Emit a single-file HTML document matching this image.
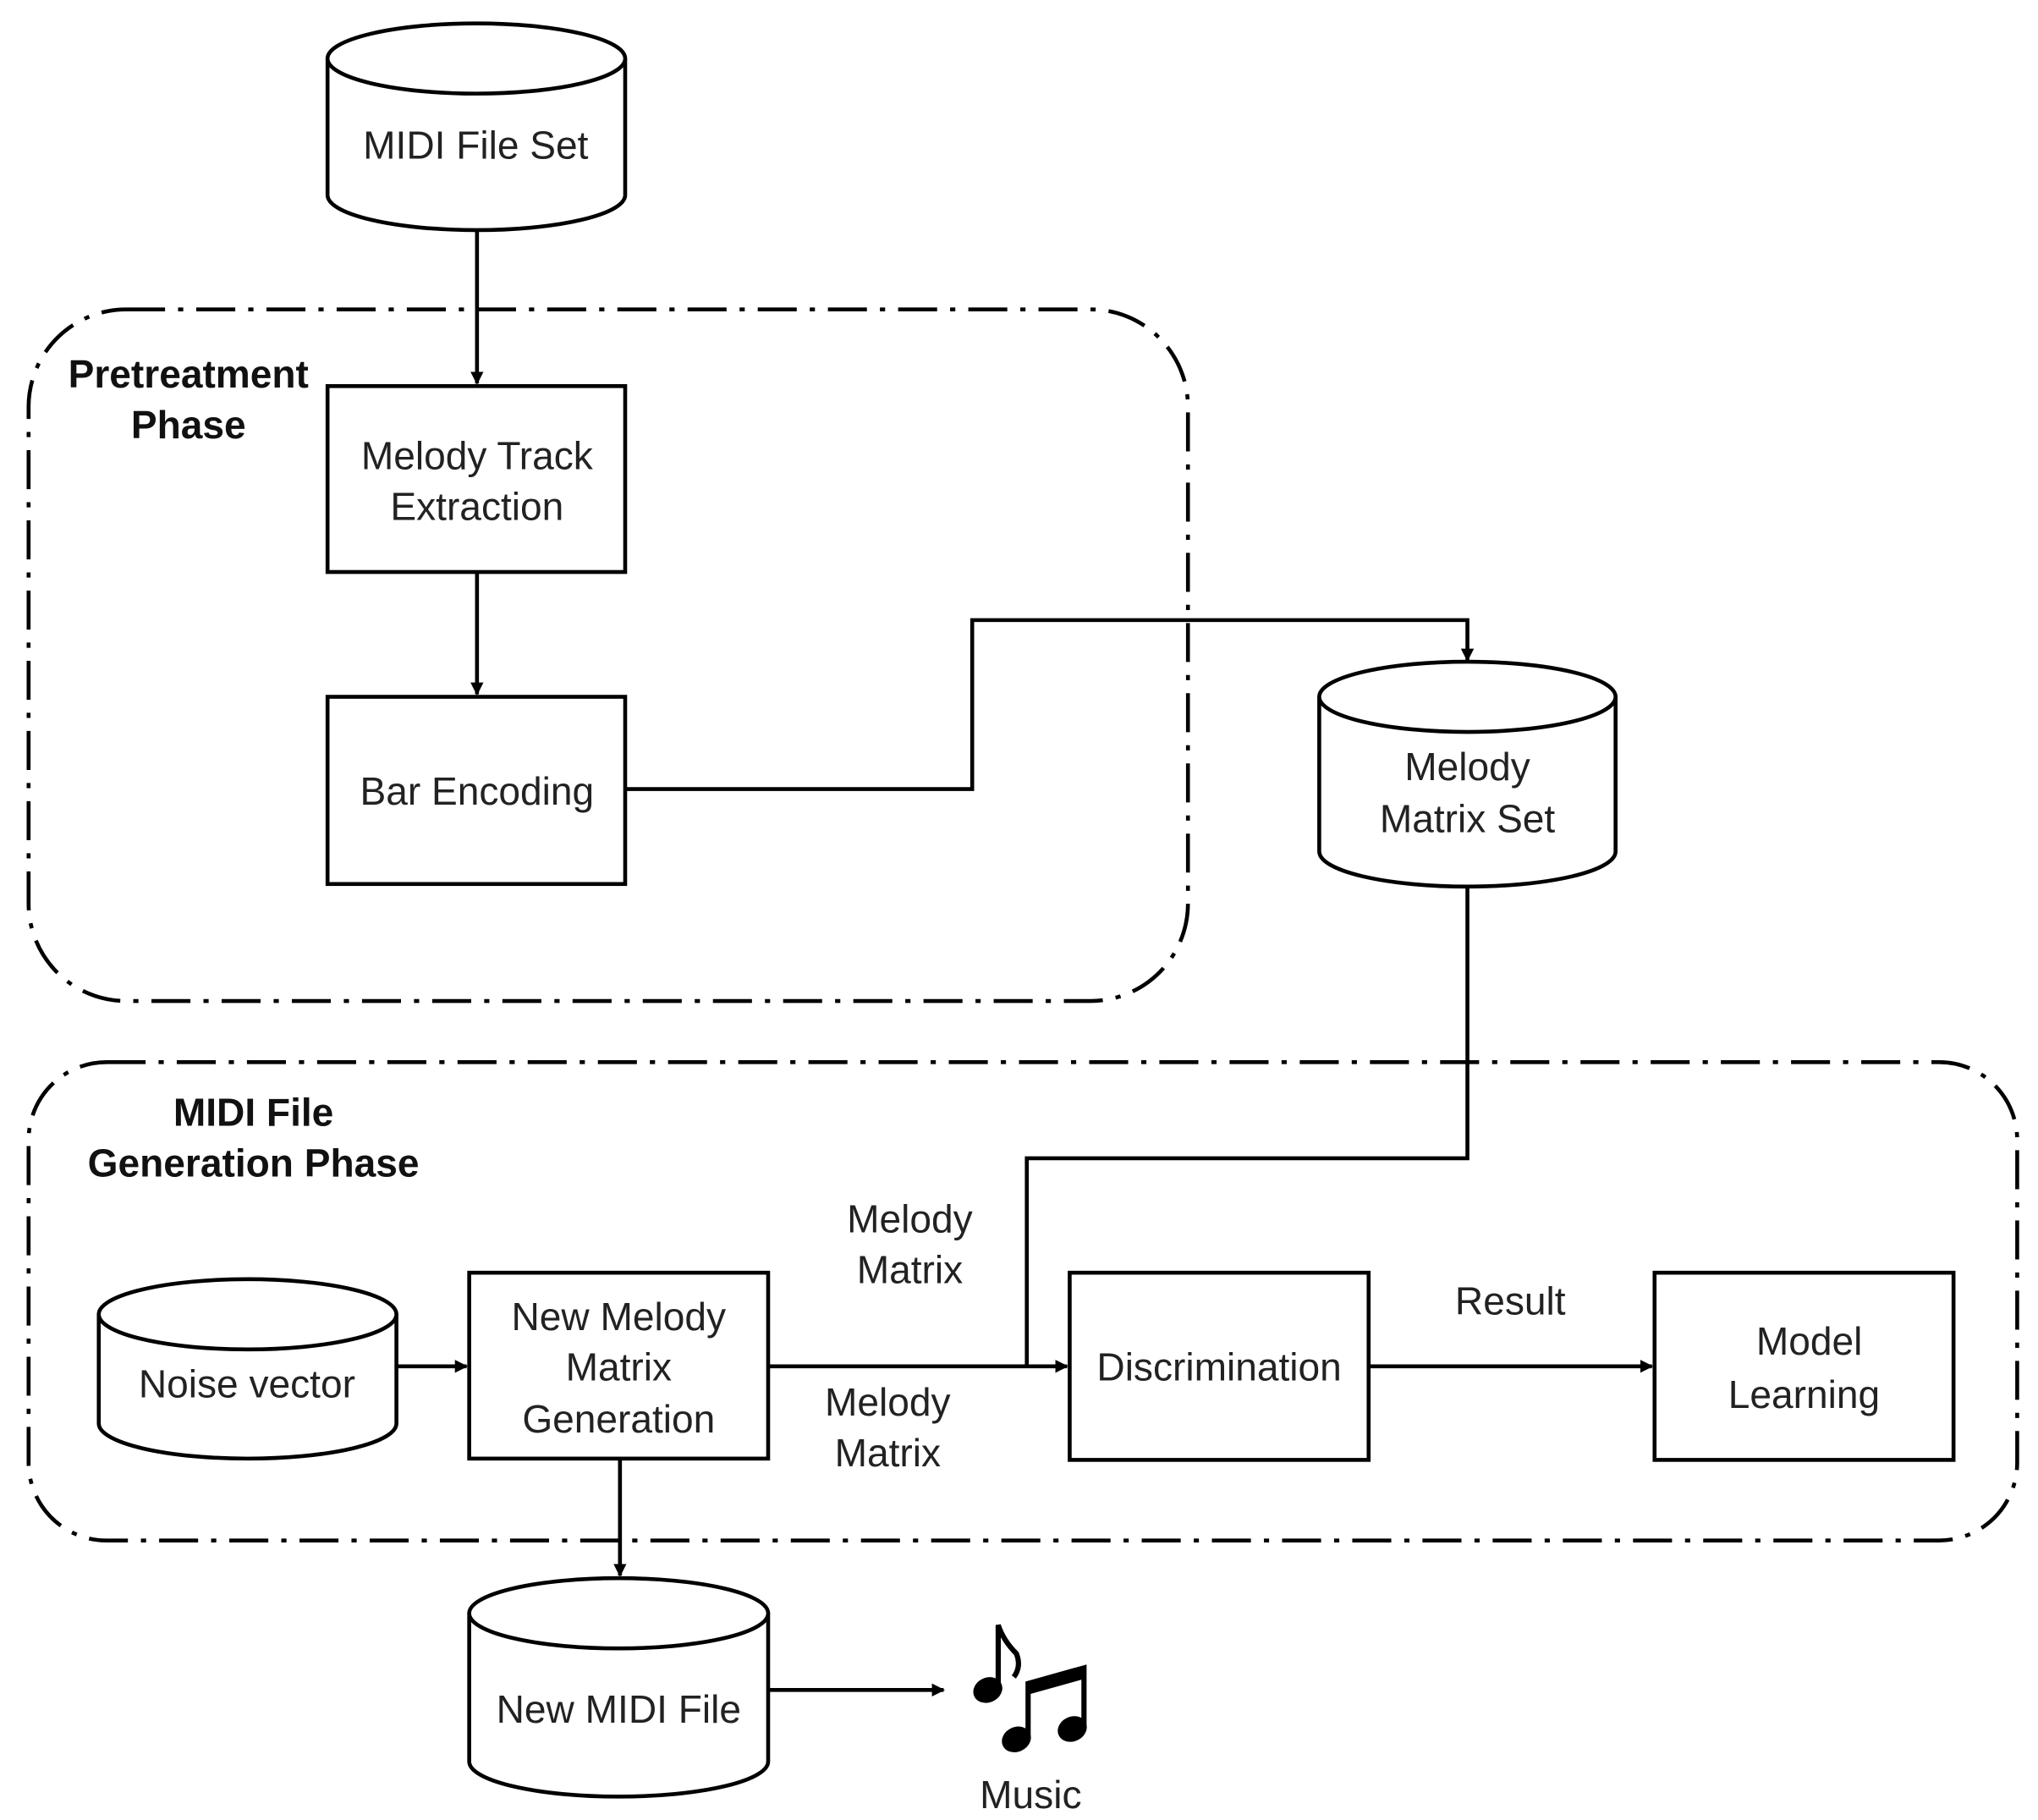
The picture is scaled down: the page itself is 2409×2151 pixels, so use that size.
<!DOCTYPE html>
<html><head><meta charset="utf-8"><style>
html,body{margin:0;padding:0;background:#fff;}
svg{display:block}
text{font-family:"Liberation Sans",sans-serif;font-size:30px;fill:#222;text-anchor:middle}
.b{font-weight:bold;fill:#111}
</style></head><body>
<svg width="2409" height="2151" viewBox="0 0 1568 1400" preserveAspectRatio="none" xmlns="http://www.w3.org/2000/svg">
<defs><marker id="a" markerWidth="10" markerHeight="10" refX="9" refY="5" orient="auto" markerUnits="userSpaceOnUse"><path d="M0,0 L10,5 L0,10 z" fill="#000"/></marker></defs>
<g fill="none" stroke="#000" stroke-width="3">
<rect x="22" y="238" width="892" height="532" rx="75" stroke-dasharray="30,10,4,10"/>
<rect x="22" y="817" width="1530" height="368" rx="60" stroke-dasharray="30,10,4,10"/>
<!-- cylinders -->
<path d="M252,45 V150 A114.5,27 0 0 0 481,150 V45" fill="#fff"/><ellipse cx="366.5" cy="45" rx="114.5" ry="27" fill="#fff"/>
<path d="M1015,536 V655 A114,27 0 0 0 1243,655 V536" fill="#fff"/><ellipse cx="1129" cy="536" rx="114" ry="27" fill="#fff"/>
<path d="M76,1011 V1095 A114.5,27 0 0 0 305,1095 V1011" fill="#fff"/><ellipse cx="190.5" cy="1011" rx="114.5" ry="27" fill="#fff"/>
<path d="M361,1241 V1355 A115,27 0 0 0 591,1355 V1241" fill="#fff"/><ellipse cx="476" cy="1241" rx="115" ry="27" fill="#fff"/>
<!-- boxes -->
<rect x="252" y="297" width="229" height="143"/>
<rect x="252" y="536" width="229" height="144"/>
<rect x="361" y="979" width="230" height="143"/>
<rect x="823" y="979" width="230" height="144"/>
<rect x="1273" y="979" width="230" height="144"/>
<!-- connectors -->
<path d="M367,177 V295" marker-end="url(#a)"/>
<path d="M367,440 V534" marker-end="url(#a)"/>
<path d="M481,607 H748 V477 H1129 V508" marker-end="url(#a)"/>
<path d="M1129,682 V891 H790 V1051"/>
<path d="M305,1051 H359" marker-end="url(#a)"/>
<path d="M591,1051 H821" marker-end="url(#a)"/>
<path d="M1053,1051 H1271" marker-end="url(#a)"/>
<path d="M477,1122 V1212" marker-end="url(#a)"/>
<path d="M591,1300 H726" marker-end="url(#a)"/>
</g>
<text x="366" y="122">MIDI File Set</text>
<text class="b" x="145" y="298">Pretreatment</text>
<text class="b" x="145" y="337">Phase</text>
<text x="367" y="361">Melody Track</text>
<text x="367" y="400">Extraction</text>
<text x="367" y="619">Bar Encoding</text>
<text x="1129" y="600">Melody</text>
<text x="1129" y="640">Matrix Set</text>
<text class="b" x="195" y="866">MIDI File</text>
<text class="b" x="195" y="905">Generation Phase</text>
<text x="190" y="1075">Noise vector</text>
<text x="476" y="1023">New Melody</text>
<text x="476" y="1062">Matrix</text>
<text x="476" y="1102">Generation</text>
<text x="700" y="948">Melody</text>
<text x="700" y="987">Matrix</text>
<text x="683" y="1089">Melody</text>
<text x="683" y="1128">Matrix</text>
<text x="938" y="1062">Discrimination</text>
<text x="1162" y="1011">Result</text>
<text x="1392" y="1042">Model</text>
<text x="1388" y="1083">Learning</text>
<text x="476" y="1325">New MIDI File</text>
<text x="793" y="1391">Music</text>
<!-- music notes -->
<g fill="#000" stroke="#000">
<ellipse cx="760" cy="1300" rx="11" ry="9" transform="rotate(-25 760 1300)"/>
<path d="M768,1297 V1250 Q772,1262 782,1272 Q786,1282 780,1290" stroke-width="4" fill="none"/>
<ellipse cx="782" cy="1338" rx="11" ry="9" transform="rotate(-25 782 1338)"/>
<ellipse cx="825" cy="1330" rx="11" ry="9" transform="rotate(-25 825 1330)"/>
<path d="M791,1336 V1295 L834,1283 V1328" stroke-width="4" fill="none"/>
<path d="M791,1295 L834,1283 V1291 L791,1303 z" stroke-width="1"/>
</g>
</svg>
</body></html>
